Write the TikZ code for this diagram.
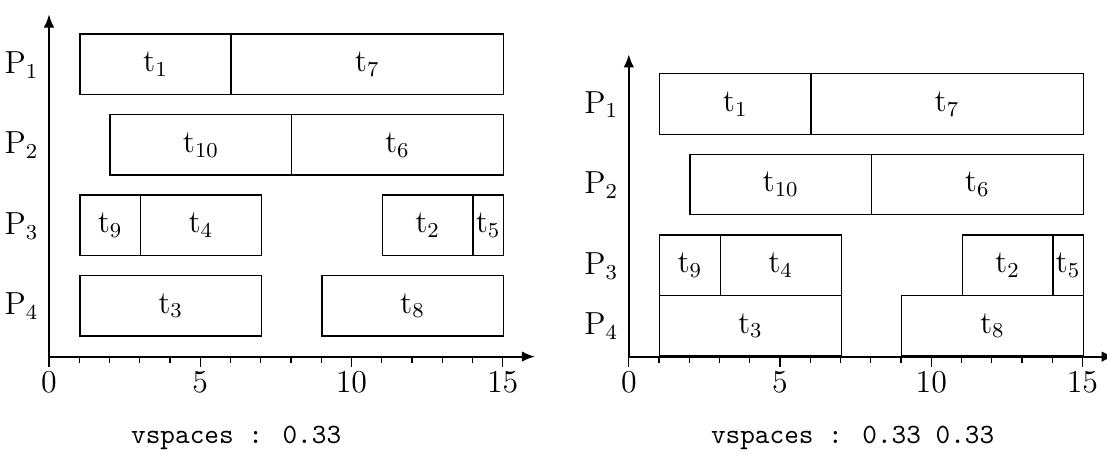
\documentclass[tikz,border=0pt]{standalone}
\usetikzlibrary{arrows.meta}
\tikzset{
 tb/.style={draw, line width=0.5pt, rectangle, inner sep=0pt, anchor=south west, font=\large},
 axisline/.style={line width=0.8pt, -{Latex[length=5pt,width=4pt]}},
 tickline/.style={line width=0.5pt},
 plabel/.style={anchor=east, inner sep=0pt, font=\large},
 nlabel/.style={anchor=north, inner sep=0pt, font=\large},
 caption/.style={anchor=base west, inner sep=0pt, font=\fontsize{10.5}{12}\selectfont\ttfamily},
}
\newcommand{\tbox}[6]{%
 \node[tb, minimum width={(#3-#2)*0.4cm}, minimum height={(#5-#4)*0.4cm}] (#1) at (#2,#4) {$\mathrm{t}_{#6}$};}
\newcommand{\ganttaxes}[2]{% prefix, y-axis top
 \coordinate (#1o) at (0,0);
 \coordinate (#1x) at (16.07,0);
 \coordinate (#1y) at (0,#2);
 \foreach \i in {0,...,15}{
   \pgfmathsetmacro{\tl}{ifthenelse(mod(\i,5)==0,0.33,0.22)}
   \draw[tickline] (\i,0) -- (\i,-\tl);
 }
 \foreach \i in {0,5,10,15}{
   \node[nlabel] (#1n\i) at (\i,-0.5) {$\i$};
 }
 \draw[axisline] (#1o) -- (#1x);
 \draw[axisline] (#1o) -- (#1y);
}
\begin{document}
\begin{tikzpicture}[x=0.4cm,y=0.4cm]
\useasboundingbox (-1.62,-3.25) rectangle (34.98,11.79);
% left chart
\begin{scope}
 \ganttaxes{L}{11.32}
 \tbox{Lt1}{1}{6}{8.64}{10.64}{1}
 \tbox{Lt7}{6}{15}{8.64}{10.64}{7}
 \tbox{Lt10}{2}{8}{5.98}{7.98}{10}
 \tbox{Lt6}{8}{15}{5.98}{7.98}{6}
 \tbox{Lt9}{1}{3}{3.32}{5.32}{9}
 \tbox{Lt4}{3}{7}{3.32}{5.32}{4}
 \tbox{Lt2}{11}{14}{3.32}{5.32}{2}
 \tbox{Lt5}{14}{15}{3.32}{5.32}{5}
 \tbox{Lt3}{1}{7}{0.66}{2.66}{3}
 \tbox{Lt8}{9}{15}{0.66}{2.66}{8}
 \node[plabel] (LP1) at (-0.33,9.64) {$\mathrm{P}_1$};
 \node[plabel] (LP2) at (-0.33,6.98) {$\mathrm{P}_2$};
 \node[plabel] (LP3) at (-0.33,4.32) {$\mathrm{P}_3$};
 \node[plabel] (LP4) at (-0.33,1.66) {$\mathrm{P}_4$};
 \node[caption] (Lcap) at (2.7,-2.88) {vspaces : 0.33};
\end{scope}
% right chart
\begin{scope}[xshift=7.668cm]
 \ganttaxes{R}{10}
 \tbox{Rt1}{1}{6}{7.33}{9.33}{1}
 \tbox{Rt7}{6}{15}{7.33}{9.33}{7}
 \tbox{Rt10}{2}{8}{4.67}{6.67}{10}
 \tbox{Rt6}{8}{15}{4.67}{6.67}{6}
 \tbox{Rt9}{1}{3}{2}{4}{9}
 \tbox{Rt4}{3}{7}{2}{4}{4}
 \tbox{Rt2}{11}{14}{2}{4}{2}
 \tbox{Rt5}{14}{15}{2}{4}{5}
 \tbox{Rt3}{1}{7}{0}{2}{3}
 \tbox{Rt8}{9}{15}{0}{2}{8}
 \node[plabel] (RP1) at (-0.33,8.33) {$\mathrm{P}_1$};
 \node[plabel] (RP2) at (-0.33,5.67) {$\mathrm{P}_2$};
 \node[plabel] (RP3) at (-0.33,3) {$\mathrm{P}_3$};
 \node[plabel] (RP4) at (-0.33,1) {$\mathrm{P}_4$};
 \node[caption] (Rcap) at (2.7,-2.88) {vspaces : 0.33 0.33};
\end{scope}
\end{tikzpicture}
\end{document}
